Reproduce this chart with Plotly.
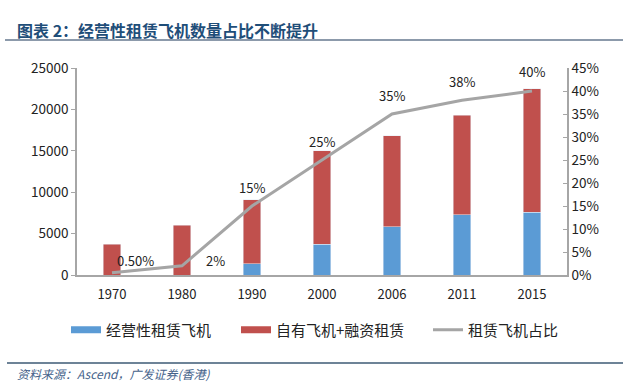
import plotly.graph_objects as go

years = ["1970", "1980", "1990", "2000", "2006", "2011", "2015"]
operating_lease = [0, 0, 1350, 3700, 5800, 7300, 7600]
own_finance = [3700, 6000, 7750, 11300, 11000, 12000, 14900]
lease_share = [0.005, 0.02, 0.15, 0.25, 0.35, 0.38, 0.40]
share_labels = ["0.50%", "2%", "15%", "25%", "35%", "38%", "40%"]

name_op = "经营性租赁飞机"
name_own = "自有飞机+融资租赁"
name_share = "租赁飞机占比"

# styling (label offsets in px)
label_xshift = [23, 33, 0, 0, 0, 0, 0]
label_yshift = [12, 5, 19, 19, 19, 19, 20]

BLUE = "#5B9BD5"
RED = "#C0504D"
GRAY = "#A5A5A5"
FONT = "Noto Sans CJK SC, Liberation Sans, sans-serif"

L, R, T, B = 77, 567, 68, 275
W = R - L
H = B - T
def px(x):
    return (x - L) / W
def py(y):
    return (B - y) / H

fig = go.Figure()
fig.add_trace(go.Bar(x=years, y=operating_lease, marker_color=BLUE, name=name_op,
                     width=0.25, showlegend=False))
fig.add_trace(go.Bar(x=years, y=own_finance, marker_color=RED, name=name_own,
                     width=0.25, showlegend=False))
fig.add_trace(go.Scatter(x=years, y=lease_share, yaxis="y2", mode="lines",
                         line=dict(color=GRAY, width=3), name=name_share, showlegend=False))

# legend entries styled like the reference (wide swatches), one legend each
fig.add_trace(go.Scatter(x=[years[0]], y=[None], mode="lines", line=dict(color=BLUE, width=7),
                         name=name_op, legend="legend"))
fig.add_trace(go.Scatter(x=[years[0]], y=[None], mode="lines", line=dict(color=RED, width=7),
                         name=name_own, legend="legend2"))
fig.add_trace(go.Scatter(x=[years[0]], y=[None], mode="lines", line=dict(color=GRAY, width=3),
                         name=name_share, legend="legend3"))

annotations = []
for i, (v, t) in enumerate(zip(lease_share, share_labels)):
    annotations.append(dict(x=i, y=v, xref="x", yref="y2", text=t, showarrow=False,
                            xshift=label_xshift[i], yshift=label_yshift[i],
                            font=dict(size=13, color="#222", family=FONT)))

annotations.append(dict(xref="paper", yref="paper", x=px(15), y=py(30), xanchor="left", yanchor="middle",
                        text="<b>图表 2：经营性租赁飞机数量占比不断提升</b>", showarrow=False,
                        font=dict(size=16, color="#1F4E79", family=FONT)))
annotations.append(dict(xref="paper", yref="paper", x=px(15), y=py(373), xanchor="left", yanchor="middle",
                        text="<i>资料来源：Ascend，广发证券(香港)</i>", showarrow=False,
                        font=dict(size=12, color="#44628A", family=FONT)))

shapes = [
    dict(type="line", xref="paper", yref="paper", x0=px(5), x1=px(623), y0=py(40), y1=py(40),
         line=dict(color="#8C9AAB", width=2)),
    dict(type="line", xref="paper", yref="paper", x0=px(7), x1=px(623), y0=py(363), y1=py(363),
         line=dict(color="#3C5A75", width=1.3)),
]

def legend_at(xpix):
    return dict(orientation="h", x=px(xpix), xanchor="left", y=py(330), yanchor="middle",
                font=dict(size=15, color="#222", family=FONT), itemwidth=30,
                bgcolor="rgba(0,0,0,0)")

fig.update_layout(
    width=640, height=392,
    margin=dict(l=L, r=640 - R, t=T, b=392 - B),
    paper_bgcolor="white", plot_bgcolor="white",
    barmode="stack",
    font=dict(family=FONT, size=13, color="#222"),
    xaxis=dict(type="category", categoryorder="array", categoryarray=years,
               range=[-0.5, len(years) - 0.5],
               showline=True, linecolor="#A6A6A6", linewidth=1.5,
               ticks="", showgrid=False, ticklabelstandoff=7,
               tickfont=dict(size=13, color="#222")),
    yaxis=dict(range=[0, 25000], dtick=5000, tickformat="d", showline=True, linecolor="#A6A6A6", linewidth=1.5,
               ticks="outside", ticklen=4, tickcolor="#A6A6A6", showgrid=False, zeroline=False,
               tickfont=dict(size=13.5, color="#222")),
    yaxis2=dict(range=[0, 0.45], dtick=0.05, tickformat=".0%", overlaying="y", side="right",
                showline=True, linecolor="#A6A6A6", linewidth=1.5, ticks="inside", ticklen=4,
                tickcolor="#A6A6A6", showgrid=False, zeroline=False,
                tickfont=dict(size=13.5, color="#222")),
    legend=legend_at(66),
    legend2=legend_at(236),
    legend3=legend_at(428),
    annotations=annotations,
    shapes=shapes,
)

fig.write_html("out.html", config={"displayModeBar": False},
               post_script="document.body.style.margin='0px';")
